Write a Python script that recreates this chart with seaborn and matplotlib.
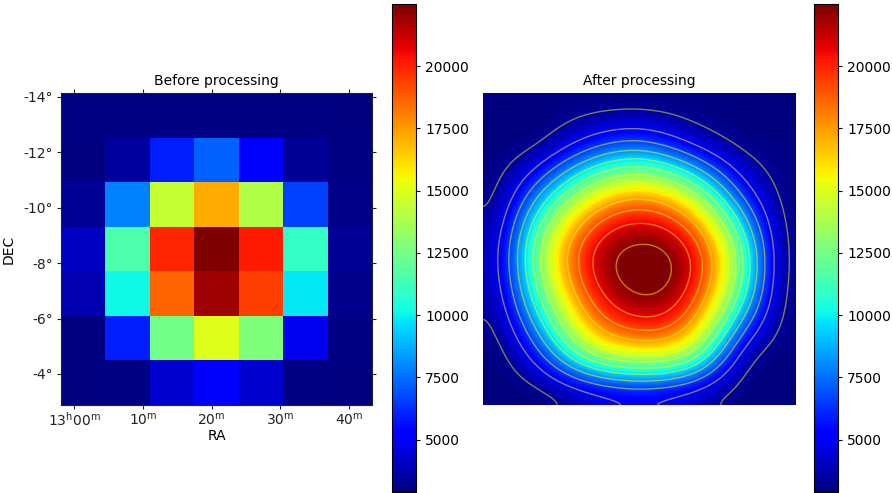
import numpy as np
import matplotlib
matplotlib.use("Agg")
import matplotlib.pyplot as plt
import seaborn as sns

# ---- data ----
flux = [
    [3000, 2980, 3020, 3050, 3010, 2990, 2950],
    [2950, 3470, 5930, 7220, 5250, 3300, 3000],
    [3300, 7800, 14460, 17200, 14000, 6650, 3100],
    [4100, 11600, 19900, 22500, 20200, 10950, 3300],
    [3780, 10150, 18600, 21900, 19400, 9800, 3200],
    [2950, 5950, 12400, 15050, 12700, 4850, 3000],
    [2900, 3000, 4300, 5150, 4300, 3000, 2950],
]
ra_ticks_min = [0, 10, 20, 30, 40]
ra_tick_labels = [r"$\mathregular{13^{h}00^{m}}$", r"$\mathregular{10^{m}}$",
                  r"$\mathregular{20^{m}}$", r"$\mathregular{30^{m}}$",
                  r"$\mathregular{40^{m}}$"]
dec_ticks = [-14, -12, -10, -8, -6, -4]
dec_tick_labels = ["-14°", "-12°", "-10°", "-8°", "-6°", "-4°"]
cbar_ticks = [5000, 7500, 10000, 12500, 15000, 17500, 20000]
titles = ["Before processing", "After processing"]

# sky extent of the 7x7 image (RA minutes after 13h, DEC degrees)
ra_left, ra_right = -1.9, 43.3
dec_top, dec_bottom = -14.14, -2.88

# contour levels of the processed map
contour_lo, contour_hi, n_levels = 3450, 22300, 13

data = np.array(flux, dtype=float)
ny, nx = data.shape
vmin, vmax = data.min(), data.max()

W, H = 892, 493
fig = plt.figure(figsize=(W / 100, H / 100), dpi=100)

def box(x0, y0, x1, y1):
    return [x0 / W, 1 - y1 / H, (x1 - x0) / W, (y1 - y0) / H]

ax1 = fig.add_axes(box(61, 93, 372, 405))
cax1 = fig.add_axes(box(392, 4, 416, 492))
ax2 = fig.add_axes(box(483, 93, 795, 405))
cax2 = fig.add_axes(box(814, 4, 838, 492))

# ---- left: raw map ----
sns.heatmap(data, ax=ax1, cbar_ax=cax1, cmap="jet", vmin=vmin, vmax=vmax,
            square=False, xticklabels=False, yticklabels=False)
for s in ax1.spines.values():
    s.set_visible(True)
    s.set_linewidth(0.8)
    s.set_color("#222222")
cell_ra = (ra_right - ra_left) / nx
cell_dec = (dec_bottom - dec_top) / ny
ax1.set_xticks([(r - ra_left) / cell_ra for r in ra_ticks_min])
ax1.set_xticklabels(ra_tick_labels)
ax1.set_yticks([(d - dec_top) / cell_dec for d in dec_ticks])
ax1.set_yticklabels(dec_tick_labels, rotation=0)
ax1.tick_params(top=True, right=True, bottom=True, left=True,
                direction="out", length=3, width=0.8, labelsize=10,
                colors="#222222")
ax1.tick_params(axis="x", pad=1.5)
ax1.tick_params(axis="y", pad=2.7)
ax1.set_xlabel("RA", fontsize=10, labelpad=0)
ax1.set_ylabel("DEC", fontsize=10, labelpad=6)
ax1.set_title(titles[0], fontsize=10)
cb1 = ax1.collections[0].colorbar
cb1.outline.set_linewidth(0.8)
cb1.set_ticks(cbar_ticks)
cb1.ax.tick_params(labelsize=10, length=3)

# ---- right: cubic B-spline resampling between the outer pixel centres ----
def bspline3(t):
    t = np.abs(t)
    out = np.zeros_like(t)
    m1 = t < 1
    m2 = (t >= 1) & (t < 2)
    out[m1] = 2 / 3 - t[m1] ** 2 + t[m1] ** 3 / 2
    out[m2] = (2 - t[m2]) ** 3 / 6
    return out

def mirror(k, n):
    period = 2 * (n - 1)
    k = np.mod(k, period)
    return np.where(k >= n, period - k, k)

def spline_weights(n, xs):
    M = np.zeros((n, n))
    for i in range(n):
        for off, w in ((-1, 1 / 6), (0, 4 / 6), (1, 1 / 6)):
            M[i, mirror(np.array(i + off), n)] += w
    B = np.zeros((len(xs), n))
    for k in range(-3, n + 3):
        B[:, int(mirror(np.array(k), n))] += bspline3(xs - k)
    return B @ np.linalg.inv(M)

N = 300
xs = np.linspace(0, nx - 1, N)
ys = np.linspace(0, ny - 1, N)
smooth = spline_weights(ny, ys) @ data @ spline_weights(nx, xs).T

ax2.imshow(smooth, cmap="jet", vmin=vmin, vmax=vmax, origin="upper",
           extent=(0, 1, 1, 0), aspect="auto", interpolation="bilinear")
levels = np.linspace(contour_lo, contour_hi, n_levels)
gx, gy = np.meshgrid(np.linspace(0, 1, N), np.linspace(0, 1, N))
ax2.contour(gx, gy, smooth, levels=levels, colors="yellow",
            linewidths=1.0, alpha=0.5)
ax2.set_xlim(0, 1)
ax2.set_ylim(1, 0)
ax2.axis("off")
ax2.set_title(titles[1], fontsize=10)
sm = plt.cm.ScalarMappable(cmap="jet", norm=plt.Normalize(vmin, vmax))
cb2 = fig.colorbar(sm, cax=cax2)
cb2.outline.set_linewidth(0.8)
cb2.set_ticks(cbar_ticks)
cb2.ax.tick_params(labelsize=10, length=3)

fig.savefig("out.png", dpi=100)
